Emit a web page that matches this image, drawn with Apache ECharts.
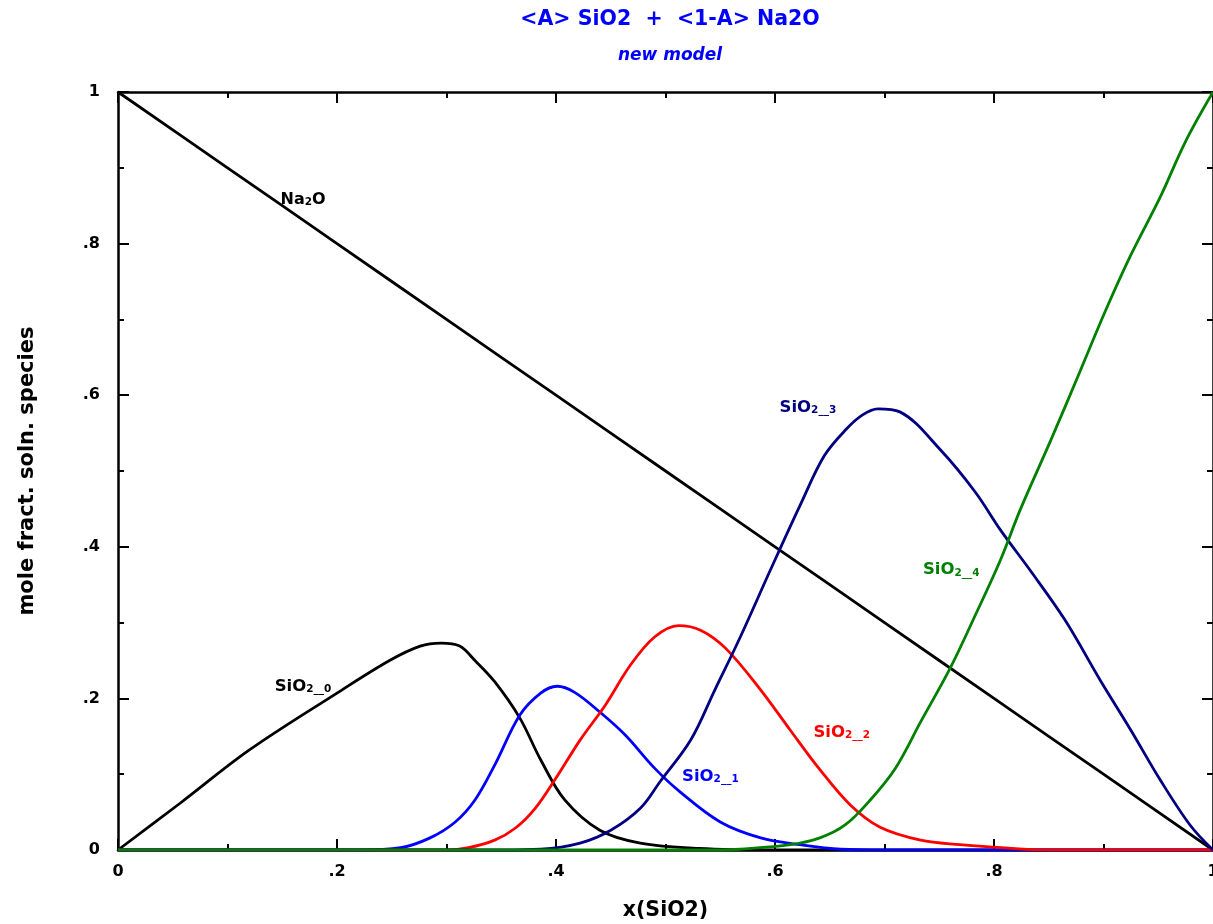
<!DOCTYPE html>
<html><head><meta charset="utf-8">
<script src="https://cdn.jsdelivr.net/npm/echarts@6/dist/echarts.min.js"></script>
<style>html,body{margin:0;padding:0;background:#fff}#c{width:1213px;height:924px}</style>
</head><body><div id="c"></div>
<script>
// ---- data ----
const na2oX = [0, 0.1, 0.2, 0.3, 0.4, 0.5, 0.6, 0.7, 0.8, 0.9, 1.0];
const na2oY = [1, 0.9, 0.8, 0.7, 0.6, 0.5, 0.4, 0.3, 0.2, 0.1, 0];

const s0X = [0, 0.057, 0.12, 0.2, 0.248, 0.276, 0.295, 0.312, 0.326, 0.344, 0.367, 0.386, 0.408, 0.44, 0.477, 0.53, 0.6, 1.0];
const s0Y = [0, 0.062, 0.132, 0.207, 0.25, 0.269, 0.273, 0.269, 0.25, 0.222, 0.174, 0.119, 0.066, 0.026, 0.009, 0.002, 0, 0];

const s1X = [0, 0.22, 0.258, 0.285, 0.308, 0.326, 0.344, 0.367, 0.386, 0.401, 0.417, 0.44, 0.463, 0.49, 0.513, 0.55, 0.587, 0.623, 0.66, 0.7, 1.0];
const s1Y = [0, 0, 0.003, 0.016, 0.037, 0.066, 0.112, 0.178, 0.207, 0.216, 0.208, 0.182, 0.152, 0.108, 0.077, 0.037, 0.016, 0.007, 0.001, 0, 0];

const s2X = [0, 0.3, 0.32, 0.344, 0.363, 0.381, 0.4, 0.422, 0.445, 0.468, 0.49, 0.512, 0.532, 0.555, 0.587, 0.614, 0.641, 0.669, 0.696, 0.733, 0.769, 0.806, 0.85, 1.0];
const s2Y = [0, 0, 0.003, 0.013, 0.029, 0.055, 0.095, 0.145, 0.191, 0.244, 0.281, 0.296, 0.29, 0.266, 0.211, 0.158, 0.106, 0.059, 0.03, 0.013, 0.007, 0.003, 0, 0];

const s3X = [0, 0.35, 0.386, 0.422, 0.45, 0.477, 0.495, 0.523, 0.545, 0.568, 0.596, 0.623, 0.645, 0.665, 0.68, 0.694, 0.714, 0.751, 0.783, 0.806, 0.833, 0.865, 0.897, 0.925, 0.952, 0.979, 1.0];
const s3Y = [0, 0, 0.001, 0.009, 0.026, 0.055, 0.09, 0.145, 0.211, 0.28, 0.37, 0.455, 0.52, 0.555, 0.574, 0.582, 0.578, 0.528, 0.472, 0.422, 0.369, 0.303, 0.224, 0.158, 0.092, 0.033, 0];

const s4X = [0, 0.55, 0.568, 0.614, 0.641, 0.664, 0.687, 0.71, 0.733, 0.76, 0.783, 0.806, 0.824, 0.852, 0.879, 0.902, 0.925, 0.952, 0.975, 1.0];
const s4Y = [0, 0, 0.001, 0.007, 0.016, 0.033, 0.066, 0.108, 0.169, 0.24, 0.31, 0.383, 0.449, 0.541, 0.633, 0.712, 0.785, 0.862, 0.935, 1.0];

const xTicks = [0, 0.2, 0.4, 0.6, 0.8, 1.0];
const yTicks = [0, 0.2, 0.4, 0.6, 0.8, 1.0];

// label anchors [x, y]
const labNa2O = [0.169, 0.862];
const lab0 = [0.169, 0.219];
const lab1 = [0.541, 0.100];
const lab2 = [0.661, 0.158];
const lab3 = [0.630, 0.587];
const lab4 = [0.761, 0.373];

// ---- chart ----
const zip = (xs, ys) => xs.map((x, i) => [x, ys[i]]);
const fmt = v => { const r = Math.round(v * 10) / 10; if (r === 0) return '0'; if (r === 1) return '1'; return String(r).replace(/^0/, ''); };
const FONT = '"DejaVu Sans", Verdana, sans-serif';

function rich(color) {
  return {
    m: { fontFamily: FONT, fontWeight: 'bold', fontSize: 16.5, color: color, lineHeight: 22, verticalAlign: 'bottom' },
    s: { fontFamily: FONT, fontWeight: 'bold', fontSize: 10.5, color: color, lineHeight: 22, verticalAlign: 'bottom', padding: [5, 0, 0, 0] }
  };
}
function richLabel(color, sub) {
  return { show: true, formatter: '{m|SiO}{s|' + sub + '}', rich: rich(color) };
}
function mp(coord, label) {
  return { symbol: 'circle', symbolSize: 0, silent: true, data: [{ coord: coord, label: Object.assign({ position: 'inside' }, label) }] };
}
function line(name, xs, ys, color, coord, label) {
  return {
    name: name, type: 'line', data: zip(xs, ys), showSymbol: false, smooth: 0.35,
    lineStyle: { color: color, width: 2.8 }, itemStyle: { color: color },
    xAxisIndex: 0, yAxisIndex: 0, animation: false, z: 3,
    markPoint: mp(coord, label)
  };
}

const axisCommon = {
  type: 'value', min: 0, max: 1, interval: 0.2,
  axisLine: { show: true, onZero: false, lineStyle: { color: '#000', width: 2.5 } },
  axisTick: { show: true, inside: true, length: 11, lineStyle: { color: '#000', width: 2 } },
  minorTick: { show: true, splitNumber: 2, length: 6, lineStyle: { color: '#000', width: 2 } },
  splitLine: { show: false }
};

const chart = echarts.init(document.getElementById('c'), null, { renderer: 'canvas' });
chart.setOption({
  backgroundColor: '#fff',
  animation: false,
  title: [
    { text: '<A> SiO2  +  <1-A> Na2O', left: 665, top: 4, textAlign: 'center',
      textStyle: { fontFamily: FONT, fontWeight: 'bold', fontSize: 20.5, color: '#0000ff' } },
    { text: 'new model', left: 665, top: 42, textAlign: 'center',
      textStyle: { fontFamily: FONT, fontWeight: 'bold', fontStyle: 'italic', fontSize: 17, color: '#0000ff' } }
  ],
  grid: { left: 118, right: 0, top: 92, bottom: 74, containLabel: false, outerBoundsMode: 'none' },
  xAxis: [
    Object.assign({}, axisCommon, {
      position: 'bottom', name: 'x(SiO2)', nameLocation: 'middle', nameGap: 50,
      nameTextStyle: { fontFamily: FONT, fontWeight: 'bold', fontSize: 20.5, color: '#000' },
      axisLabel: { show: true, margin: 14, formatter: fmt, fontFamily: FONT, fontWeight: 'bold', fontSize: 16, color: '#000', customValues: xTicks }
    }),
    Object.assign({}, axisCommon, { position: 'top', axisLabel: { show: false } })
  ],
  yAxis: [
    Object.assign({}, axisCommon, {
      position: 'left', name: 'mole fract. soln. species', nameLocation: 'middle', nameGap: 80,
      nameTextStyle: { fontFamily: FONT, fontWeight: 'bold', fontSize: 21, color: '#000' },
      axisLabel: { show: true, margin: 18, formatter: fmt, fontFamily: FONT, fontWeight: 'bold', fontSize: 16, color: '#000', customValues: yTicks }
    }),
    Object.assign({}, axisCommon, { position: 'right', axisLabel: { show: false } })
  ],
  series: [
    line('Na2O', na2oX, na2oY, '#000000', labNa2O, {
      show: true, formatter: '{m|Na}{s|2}{m|O}', rich: {
        m: { fontFamily: FONT, fontWeight: 'bold', fontSize: 16, color: '#000', lineHeight: 22, verticalAlign: 'bottom' },
        s: { fontFamily: FONT, fontWeight: 'bold', fontSize: 10.5, color: '#000', lineHeight: 22, verticalAlign: 'bottom', padding: [3, 0, 0, 0] }
      }
    }),
    line('SiO2_0', s0X, s0Y, '#000000', lab0, richLabel('#000000', '2__0')),
    line('SiO2_1', s1X, s1Y, '#0000ff', lab1, richLabel('#0000ff', '2__1')),
    line('SiO2_2', s2X, s2Y, '#ff0000', lab2, richLabel('#ff0000', '2__2')),
    line('SiO2_3', s3X, s3Y, '#000080', lab3, richLabel('#000080', '2__3')),
    line('SiO2_4', s4X, s4Y, '#008000', lab4, richLabel('#008000', '2__4'))
  ]
});
</script>
</body></html>
